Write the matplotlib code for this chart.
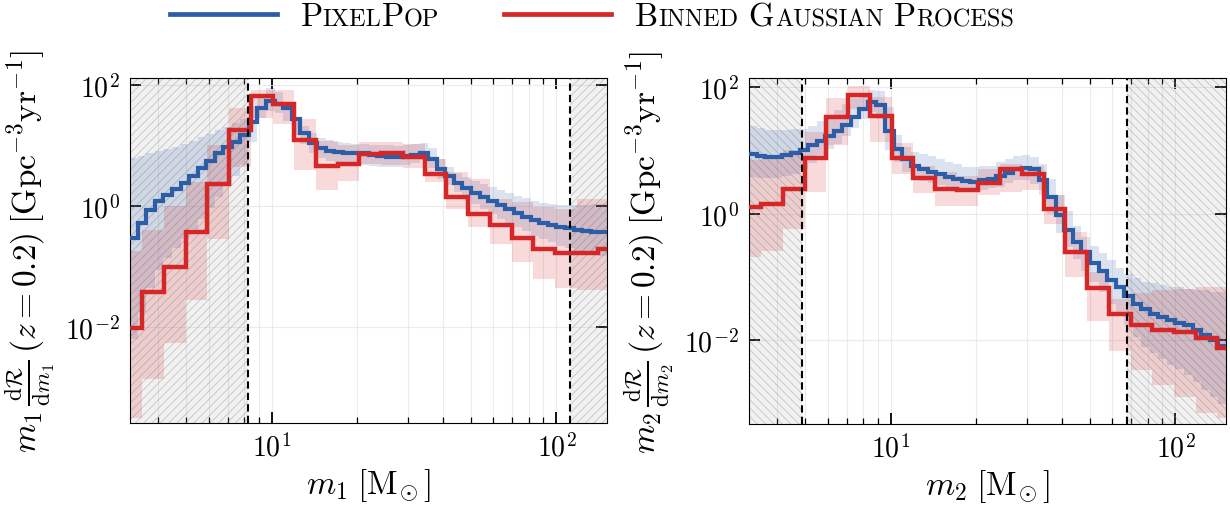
import numpy as np
import matplotlib
matplotlib.use('Agg')
import matplotlib.pyplot as plt
from matplotlib.ticker import NullLocator, NullFormatter
from matplotlib.offsetbox import AnchoredOffsetbox, HPacker, TextArea, DrawingArea
from matplotlib.lines import Line2D

plt.rcParams['mathtext.fontset'] = 'cm'
plt.rcParams['font.family'] = 'serif'
plt.rcParams['font.serif'] = ['cmr10', 'DejaVu Serif']
plt.rcParams['axes.formatter.use_mathtext'] = True
plt.rcParams['hatch.linewidth'] = 0.6

# data (log10 of rate density)

# PixelPop: fine log-spaced bins
pp_edges = np.logspace(0.5, 2.18, 57)

pp_m1_med = np.array([
    -0.53, -0.28, -0.07, 0.08, 0.18, 0.28, 0.38, 0.50,
    0.62, 0.75, 0.87, 0.97, 1.06, 1.17, 1.38, 1.62,
    1.74, 1.68, 1.62, 1.43, 1.20, 1.04, 0.96, 0.91,
    0.885, 0.88, 0.875, 0.87, 0.85, 0.83, 0.81, 0.81,
    0.82, 0.845, 0.88, 0.78, 0.61, 0.49, 0.38, 0.29,
    0.21, 0.15, 0.08, 0.01, -0.05, -0.11, -0.18, -0.23,
    -0.275, -0.32, -0.35, -0.37, -0.40, -0.415, -0.425, -0.43])
pp_m1_hi = np.array([
    0.79, 0.83, 0.87, 0.90, 0.94, 0.98, 1.03, 1.08,
    1.14, 1.19, 1.25, 1.31, 1.37, 1.43, 1.65, 1.85,
    1.95, 1.88, 1.68, 1.45, 1.32, 1.21, 1.13, 1.09,
    1.06, 1.04, 1.03, 1.02, 1.01, 1.00, 1.00, 0.99,
    1.00, 1.02, 1.04, 0.95, 0.78, 0.64, 0.55, 0.48,
    0.41, 0.36, 0.31, 0.26, 0.22, 0.17, 0.13, 0.09,
    0.05, 0.03, 0.02, 0.01, 0.01, 0.02, 0.03, 0.04])
pp_m1_lo = np.array([
    -2.2, -1.75, -1.35, -1.05, -0.86, -0.70, -0.54, -0.38,
    -0.21, -0.03, 0.15, 0.33, 0.50, 0.67, 1.05, 1.45,
    1.57, 1.54, 1.40, 1.17, 1.02, 0.88, 0.80, 0.75,
    0.72, 0.70, 0.69, 0.675, 0.66, 0.645, 0.64, 0.64,
    0.67, 0.71, 0.76, 0.62, 0.45, 0.34, 0.23, 0.13,
    0.04, -0.05, -0.13, -0.21, -0.28, -0.35, -0.42, -0.49,
    -0.55, -0.60, -0.66, -0.70, -0.74, -0.77, -0.80, -0.83])

pp_m2_med = np.array([
    0.94, 0.91, 0.895, 0.90, 0.92, 0.96, 1.01, 1.08,
    1.15, 1.22, 1.30, 1.40, 1.52, 1.66, 1.77, 1.71,
    1.30, 1.02, 0.86, 0.75, 0.70, 0.66, 0.62, 0.58,
    0.545, 0.52, 0.50, 0.53, 0.55, 0.60, 0.65, 0.70,
    0.72, 0.71, 0.54, 0.26, -0.02, -0.25, -0.45, -0.61,
    -0.77, -0.91, -1.04, -1.15, -1.30, -1.43, -1.51, -1.58,
    -1.63, -1.68, -1.72, -1.76, -1.83, -1.91, -2.0, -2.09])
pp_m2_hi = np.array([
    1.39, 1.35, 1.32, 1.32, 1.33, 1.335, 1.34, 1.39,
    1.46, 1.54, 1.63, 1.73, 1.82, 1.90, 1.95, 1.94,
    1.68, 1.25, 1.05, 0.97, 0.94, 0.91, 0.87, 0.82,
    0.78, 0.74, 0.74, 0.75, 0.76, 0.82, 0.87, 0.91,
    0.92, 0.89, 0.78, 0.55, 0.30, 0.04, -0.20, -0.37,
    -0.51, -0.62, -0.73, -0.85, -0.95, -1.01, -1.07, -1.10,
    -1.13, -1.15, -1.16, -1.18, -1.20, -1.21, -1.23, -1.24])
pp_m2_lo = np.array([
    0.58, 0.57, 0.565, 0.57, 0.59, 0.63, 0.70, 0.80,
    0.92, 1.02, 1.10, 1.22, 1.36, 1.50, 1.60, 1.50,
    1.00, 0.82, 0.66, 0.56, 0.51, 0.49, 0.46, 0.42,
    0.39, 0.37, 0.36, 0.38, 0.40, 0.43, 0.48, 0.53,
    0.54, 0.47, 0.30, 0.0, -0.30, -0.52, -0.72, -0.90,
    -1.08, -1.24, -1.42, -1.58, -1.75, -1.95, -2.1, -2.2,
    -2.3, -2.38, -2.45, -2.55, -2.65, -2.78, -2.9, -3.0])

# Binned Gaussian process: coarse bins
gp_edges = np.array([2.94, 3.51, 4.18, 4.99, 5.95, 7.09, 8.45, 10.07, 12.0,
                     14.31, 17.06, 20.34, 24.24, 28.9, 34.45, 41.06, 48.95,
                     58.35, 69.56, 82.9, 98.9, 117.8, 140.5, 167.5])

gp_m1_med = np.array([-2.01, -1.42, -1.0, -0.43, 0.36, 1.26, 1.815, 1.677,
                      1.083, 0.66, 0.69, 0.863, 0.88, 0.81, 0.533, 0.148,
                      -0.127, -0.309, -0.523, -0.705, -0.776, -0.776, -0.705])
gp_m1_hi = np.array([-0.75, -0.4, 0.0, 0.4, 1.0, 1.62, 1.92, 1.91,
                     1.44, 1.08, 1.0, 1.06, 1.06, 1.03, 0.78, 0.56,
                     0.45, 0.12, 0.07, -0.02, -0.045, 0.12, 0.12])
gp_m1_lo = np.array([-3.51, -2.85, -2.27, -1.56, -0.54, 0.64, 1.45, 1.36,
                     0.59, 0.26, 0.42, 0.70, 0.68, 0.63, 0.40, -0.045,
                     -0.35, -0.62, -0.92, -1.2, -1.36, -1.38, -1.38])

gp_m2_med = np.array([0.105, 0.16, 0.395, 0.88, 1.53, 1.88, 1.55, 0.88,
                      0.56, 0.385, 0.37, 0.49, 0.71, 0.62, 0.08, -0.605,
                      -1.17, -1.58, -1.76, -1.84, -1.87, -1.96, -2.12])
gp_m2_hi = np.array([0.85, 0.9, 1.0, 1.29, 1.82, 2.02, 1.84, 1.11,
                     0.76, 0.66, 0.6, 0.7, 0.79, 0.76, 0.29, -0.29,
                     -0.92, -1.34, -1.25, -1.2, -1.18, -1.16, -1.15])
gp_m2_lo = np.array([-0.68, -0.58, -0.24, 0.34, 1.08, 1.66, 1.13, 0.63,
                     0.32, 0.13, 0.13, 0.29, 0.34, 0.37, -0.16, -1.0,
                     -1.69, -2.16, -2.46, -2.70, -2.90, -3.14, -3.22])

# excluded mass ranges (dashed lines)
m1_cuts = [8.25, 112.0]
m2_cuts = [4.88, 67.7]

BLUE = '#2c5ea8'
RED = '#d62728'
XLIM = (3.18, 150.5)


def plot_panel(ax, pp, gp, cuts, hatch, ylim, xlabel, ylabel):
    '''
    One mass panel
    Input:
        pp, gp -- (lo, med, hi) in log10 for PixelPop and binned GP
        cuts -- lower / upper edge of trusted mass range
        hatch -- hatch pattern of excluded regions
    '''
    ax.set_xscale('log')
    ax.set_yscale('log')

    # excluded regions
    for x0, x1 in [(1.0, cuts[0]), (cuts[1], 1000.0)]:
        ax.axvspan(x0, x1, facecolor=(0.6, 0.6, 0.6, 0.13),
                   edgecolor=(0.55, 0.55, 0.55, 0.45), hatch=hatch,
                   linewidth=0, zorder=1)
    for c in cuts:
        ax.axvline(c, color='k', lw=1.5, dashes=(3.5, 2), zorder=5)

    lo, med, hi = [10**np.asarray(v) for v in pp]
    ax.stairs(hi, pp_edges, baseline=lo, fill=True, color=BLUE, alpha=0.17,
              lw=0, zorder=2)
    glo, gmed, ghi = [10**np.asarray(v) for v in gp]
    ax.stairs(ghi, gp_edges, baseline=glo, fill=True, color=RED, alpha=0.17,
              lw=0, zorder=2)
    ax.stairs(med, pp_edges, baseline=None, color=BLUE, lw=3.0, zorder=3)
    ax.stairs(gmed, gp_edges, baseline=None, color=RED, lw=3.2, zorder=4)

    ax.set_xlim(*XLIM)
    ax.set_ylim(*ylim)
    ax.set_yticks([1e-2, 1.0, 1e2])
    ax.yaxis.set_minor_locator(NullLocator())
    ax.xaxis.set_minor_formatter(NullFormatter())
    ax.tick_params(which='both', direction='in', top=True, right=True,
                   labelsize=20)
    ax.tick_params(which='major', length=8, width=1.3, pad=7)
    ax.tick_params(which='minor', length=4, width=0.9)
    ax.grid(which='both', color='0.9', lw=0.8, alpha=0.8)
    ax.set_axisbelow(True)
    ax.set_xlabel(xlabel, fontsize=24, labelpad=3)
    ax.set_ylabel(ylabel, fontsize=24, labelpad=5)


def smallcaps(text, big=23.5, small=17.5):
    ''' fake small caps with text pieces of two sizes '''
    parts = []
    cur, cur_big = '', None
    for ch in text:
        is_big = ch.isupper() or ch == ' '
        if cur and is_big != cur_big:
            parts.append((cur, cur_big))
            cur = ''
        cur += ch.upper()
        cur_big = is_big
    parts.append((cur, cur_big))
    boxes = [TextArea(s, textprops=dict(fontsize=big if b else small))
             for s, b in parts]
    return HPacker(children=boxes, align='baseline', pad=0, sep=0)


def legend_entry(color, label):
    da = DrawingArea(77, 16, 0, 0)
    da.add_artist(Line2D([0, 77], [8, 8], color=color, lw=3.4))
    return HPacker(children=[da, smallcaps(label)], align='baseline',
                   pad=0, sep=17)


fig = plt.figure(figsize=(12.3, 5.1), dpi=100)
ax1 = fig.add_axes([130 / 1230, 1 - 424 / 510, 477 / 1230, 345 / 510])
ax2 = fig.add_axes([749 / 1230, 1 - 425 / 510, 477 / 1230, 346 / 510])

plot_panel(ax1, (pp_m1_lo, pp_m1_med, pp_m1_hi),
           (gp_m1_lo, gp_m1_med, gp_m1_hi), m1_cuts, '////', (2.6e-4, 130),
           r'$m_1\;[\mathrm{M}_{\!\odot}]$',
           r'$m_1\,\frac{\mathrm{d}\mathcal{R}}{\mathrm{d}m_1}\,(z = 0.2)\;'
           r'[\mathrm{Gpc}^{-3}\mathrm{yr}^{-1}]$')
plot_panel(ax2, (pp_m2_lo, pp_m2_med, pp_m2_hi),
           (gp_m2_lo, gp_m2_med, gp_m2_hi), m2_cuts, '\\\\\\\\',
           (4.8e-4, 139),
           r'$m_2\;[\mathrm{M}_{\!\odot}]$',
           r'$m_2\,\frac{\mathrm{d}\mathcal{R}}{\mathrm{d}m_2}\,(z = 0.2)\;'
           r'[\mathrm{Gpc}^{-3}\mathrm{yr}^{-1}]$')

leg = HPacker(children=[legend_entry(BLUE, 'PixelPop'),
                        legend_entry(RED, 'Binned Gaussian Process')],
              align='baseline', pad=0, sep=47)
anchored = AnchoredOffsetbox(loc='upper left', child=leg, pad=0, borderpad=0,
                             frameon=False,
                             bbox_to_anchor=(170 / 1230, 1 - 3 / 510),
                             bbox_transform=fig.transFigure)
fig.add_artist(anchored)

fig.savefig('out.png', dpi=100)
